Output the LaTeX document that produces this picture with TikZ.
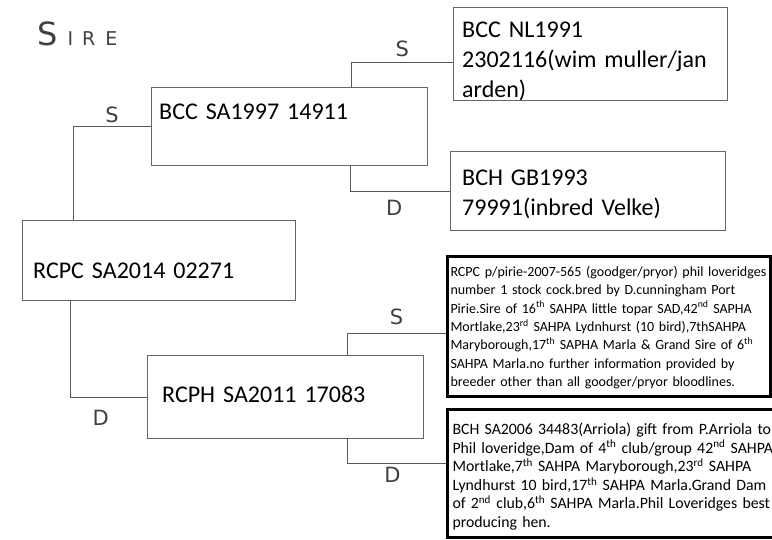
\documentclass[tikz,border=0pt]{standalone}
\usepackage{fontspec}
\setmainfont{Carlito}
\newfontfamily\handfont{DejaVu Sans}

\begin{document}
\begin{tikzpicture}[
        x=1pt, y=-1pt,
        pedbox/.style={rectangle, draw=black!60, thin, anchor=north west, inner ysep=0pt, align=left, font=\fontsize{24}{30}\selectfont},
        notebox/.style={rectangle, draw=black, line width=3pt, anchor=north west, inner ysep=0pt, align=left},
        linkline/.style={-, black!65, thin},
        tagtext/.style={font=\handfont\fontsize{21}{21}\selectfont, text=black!75},
        ]
            \path[use as bounding box, fill=white] (0,0) rectangle (772,539);

            \node[anchor=west, text=black!75, inner sep=0pt] at(37,34) (sire) {\handfont\fontsize{32}{32}\selectfont S\hspace{10pt}\fontsize{19}{19}\selectfont I\hspace{9pt}R\hspace{10pt}E};

            \node[pedbox, inner xsep=11pt, text width=251pt, text height=58pt, text depth=22pt] at(22,220) (rcpc) {RCPC SA2014 02271};
            \node[pedbox, inner xsep=8pt, text width=260pt, text height=32pt, text depth=46pt] at(151,87) (bcc) {BCC SA1997 14911};
            \node[pedbox, inner xsep=15pt, text width=246pt, text height=47pt, text depth=36pt] at(147,355) (rcph) {RCPH SA2011 17083};
            \node[pedbox, inner xsep=9pt, text width=256pt, text height=30pt, text depth=63pt] at(453,7) (nl) {BCC NL1991\\2302116(wim muller/jan\\arden)};
            \node[pedbox, inner xsep=12pt, text width=251pt, text height=34pt, text depth=45pt] at(450,151) (gb) {BCH GB1993\\79991(inbred Velke)};

            \node[notebox, inner xsep=3pt, text width=317pt, text height=20pt, text depth=120pt, font=\fontsize{14}{18.3}\selectfont] at(446,255) (rcpcnote) {RCPC p/pirie-2007-565 (goodger/pryor) phil loveridges\\
                number 1 stock cock.bred by D.cunningham Port\\
                Pirie.Sire of 16\textsuperscript{th} SAHPA little topar SAD,42\textsuperscript{nd} SAPHA\\
                Mortlake,23\textsuperscript{rd} SAHPA Lydnhurst (10 bird),7thSAHPA\\
                Maryborough,17\textsuperscript{th} SAPHA Marla \& Grand Sire of 6\textsuperscript{th}\\
                SAHPA Marla.no further information provided by\\
                breeder other than all goodger/pryor bloodlines.};
            \node[notebox, inner xsep=5pt, text width=330pt, text height=25pt, text depth=103pt, font=\fontsize{15.8}{18.6}\selectfont] at(446,408) (bchnote) {BCH SA2006 34483(Arriola) gift from P.Arriola to\\
                Phil loveridge,Dam of 4\textsuperscript{th} club/group 42\textsuperscript{nd} SAHPA\\
                Mortlake,7\textsuperscript{th} SAHPA Maryborough,23\textsuperscript{rd} SAHPA\\
                Lyndhurst 10 bird,17\textsuperscript{th} SAHPA Marla.Grand Dam\\
                of 2\textsuperscript{nd} club,6\textsuperscript{th} SAHPA Marla.Phil Loveridges best\\
                producing hen.};

            \draw[linkline] (bcc.west)  -|  ([xshift=51pt]rcpc.north west) node[tagtext, pos=0.25, above] {S};
            \draw[linkline] ([xshift=48pt]rcpc.south west)  |-  (rcph.west) node[tagtext, pos=0.7, below=10pt] {D};
            \draw[linkline] ([xshift=-76pt]bcc.north east)  |-  ([yshift=-8pt]nl.west) node[tagtext, pos=0.75, above=1pt] {S};
            \draw[linkline] ([xshift=-77pt]bcc.south east)  |-  (gb.west) node[tagtext, pos=0.72, below=6pt] {D};
            \draw[linkline] ([xshift=200pt]rcph.north west)  |-  ([yshift=-7pt]rcpcnote.west) node[tagtext, pos=0.75, above=5pt] {S};
            \draw[linkline] ([xshift=200pt]rcph.south west)  |-  ([yshift=10pt]bchnote.west) node[tagtext, pos=0.73, below] {D};

\end{tikzpicture}
\end{document}
